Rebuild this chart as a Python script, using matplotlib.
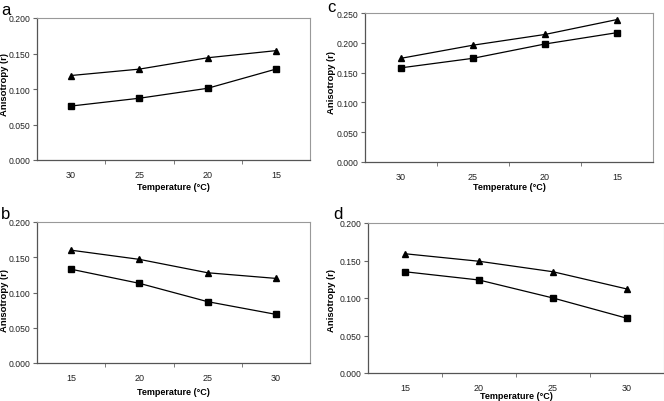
import matplotlib
matplotlib.use('Agg')
import matplotlib.pyplot as plt

plt.rcParams['font.family'] = ['Liberation Sans', 'DejaVu Sans']

temps_down = ['30', '25', '20', '15']
temps_up = ['15', '20', '25', '30']

a_tri = [0.119, 0.128, 0.144, 0.154]
a_sq = [0.076, 0.087, 0.101, 0.128]
c_tri = [0.174, 0.196, 0.214, 0.239]
c_sq = [0.158, 0.174, 0.198, 0.217]
b_tri = [0.160, 0.147, 0.128, 0.120]
b_sq = [0.133, 0.113, 0.087, 0.069]
d_tri = [0.159, 0.149, 0.135, 0.112]
d_sq = [0.135, 0.124, 0.100, 0.073]

W, H = 664.0, 402.0

def box(left, top, right, bottom):
    return [left / W, 1 - bottom / H, (right - left) / W, (bottom - top) / H]

panels = [
    ('a', box(37, 19, 310, 161), temps_down, a_tri, a_sq, 0.2, (1, 3), (4.8, 85), 188),
    ('c', box(365, 14, 653, 163), temps_down, c_tri, c_sq, 0.25, (327, 0), (332, 83), 188),
    ('b', box(37, 223, 310, 364), temps_up, b_tri, b_sq, 0.2, (1, 207), (4.8, 300), 393),
    ('d', box(368, 224, 664, 374), temps_up, d_tri, d_sq, 0.2, (333, 207), (332, 301), 397),
]

fig = plt.figure(figsize=(6.64, 4.02), dpi=100)

for letter, pos, cats, tri, sq, ymax, lpos, ypos, xly in panels:
    ax = fig.add_axes(pos)
    x = range(len(cats))
    ax.plot(x, tri, color='black', lw=0.9, marker='^', ms=4.5)
    ax.plot(x, sq, color='black', lw=0.9, marker='s', ms=3.8)
    ax.set_xlim(-0.5, len(cats) - 0.5)
    ax.set_ylim(0, ymax)
    n = int(round(ymax / 0.05)) + 1
    ax.set_yticks([i * 0.05 for i in range(n)])
    ax.set_yticklabels(['%.3f' % (i * 0.05) for i in range(n)])
    ax.set_xticks(list(x))
    ax.set_xticklabels(cats)
    ax.set_xticks([i + 0.5 for i in range(len(cats) - 1)], minor=True)
    ax.tick_params(axis='x', which='major', length=0, pad=7, labelsize=6.5, colors='#222222')
    ax.tick_params(axis='x', which='minor', length=3, color='#666666', direction='out')
    ax.tick_params(axis='y', length=3, color='#666666', labelsize=6.2, labelcolor='#222222', pad=2)
    for side in ['left', 'bottom']:
        ax.spines[side].set_color('#555555')
        ax.spines[side].set_linewidth(0.9)
    for side in ['top', 'right']:
        ax.spines[side].set_color('#999999')
        ax.spines[side].set_linewidth(0.8)
    fig.text(lpos[0] / W, 1 - lpos[1] / H, letter, fontsize=12, va='top', ha='left')
    fig.text(ypos[0] / W, 1 - ypos[1] / H, 'Anisotropy (r)', rotation=90, fontsize=6.8,
             fontweight='bold', va='center', ha='center')
    cx = pos[0] + pos[2] / 2
    fig.text(cx, 1 - xly / H, 'Temperature (°C)', fontsize=6.5, fontweight='bold',
             va='center', ha='center')

fig.savefig('out.png', dpi=100)
